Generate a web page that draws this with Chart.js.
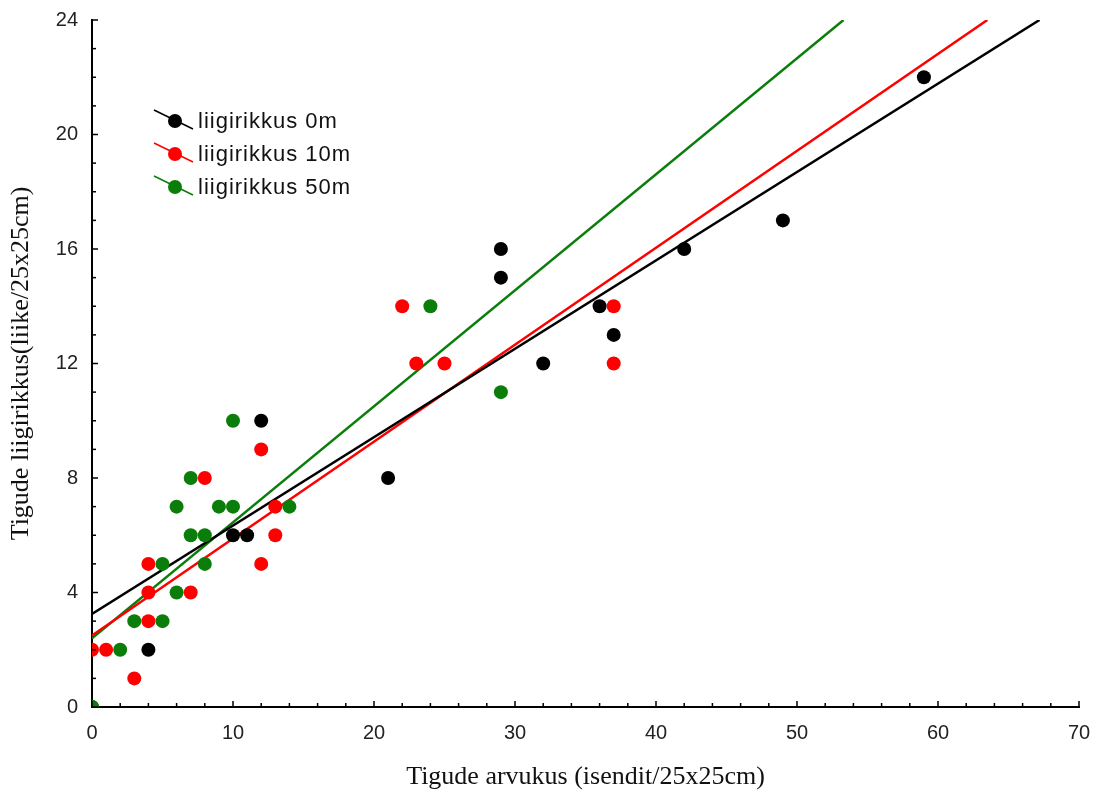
<!DOCTYPE html>
<html>
<head>
<meta charset="utf-8">
<script src="https://cdn.jsdelivr.net/npm/chart.js@4/dist/chart.umd.min.js"></script>
<style>
  html, body { margin: 0; padding: 0; background: #fff; }
  #wrap { width: 1106px; height: 801px; }
</style>
</head>
<body>
<div id="wrap"><canvas id="chart"></canvas></div>
<script>
// punktid (x = tigude arvukus, y = liigirikkus)
var black0mX = [0, 4, 10, 11, 12, 21, 29, 29, 32, 36, 37, 42, 49, 59];
var black0mY = [0, 2, 6, 6, 10, 8, 16, 15, 12, 14, 13, 16, 17, 22];

var red10mX = [0, 1, 3, 4, 4, 4, 7, 8, 12, 12, 13, 13, 22, 23, 25, 37, 37];
var red10mY = [2, 2, 1, 3, 4, 5, 4, 8, 9, 5, 7, 6, 14, 12, 12, 14, 12];

var green50mX = [0, 2, 3, 5, 5, 6, 6, 7, 7, 8, 8, 9, 10, 10, 14, 24, 29];
var green50mY = [0, 2, 3, 3, 5, 4, 7, 8, 6, 6, 5, 7, 7, 10, 7, 14, 11];

// regressioonijoonte otspunktid (loetud pildilt)
var fit0mX = [0, 67.2];
var fit0mY = [3.25, 24];
var fit10mX = [0, 63.5];
var fit10mY = [2.5, 24];
var fit50mX = [0, 53.3];
var fit50mY = [2.4, 24];

var legendLabels = ['liigirikkus 0m', 'liigirikkus 10m', 'liigirikkus 50m'];
var seriesColors = ['#000000', '#ff0000', '#0b7d0b'];

var xTicks = [0, 10, 20, 30, 40, 50, 60, 70];
var yTicks = [0, 4, 8, 12, 16, 20, 24];

function toPoints(xs, ys) {
  var pts = [];
  for (var i = 0; i < xs.length; i++) {
    pts.push({x: xs[i], y: ys[i]});
  }
  return pts;
}

function pointSet(label, xs, ys, color, order) {
  return {
    label: label,
    data: toPoints(xs, ys),
    order: order,
    showLine: false,
    pointRadius: 7,
    pointHoverRadius: 7,
    pointBackgroundColor: color,
    pointBorderColor: color,
    pointBorderWidth: 0
  };
}

function lineSet(xs, ys, color) {
  return {
    label: '',
    data: toPoints(xs, ys),
    order: 10,
    showLine: true,
    borderColor: color,
    borderWidth: 2.5,
    pointRadius: 0,
    fill: false
  };
}

// sisemised kriipsud ja legend
var extrasPlugin = {
  id: 'extras',
  afterDraw: function(chart) {
    var ctx = chart.ctx;
    var xs = chart.scales.x;
    var ys = chart.scales.y;
    var area = chart.chartArea;
    ctx.save();
    ctx.strokeStyle = '#000';
    ctx.lineWidth = 1.5;
    for (var v = 0; v <= 70; v += 2) {
      var px = xs.getPixelForValue(v);
      var len = (v % 10 === 0) ? 6 : 4;
      ctx.beginPath();
      ctx.moveTo(px, area.bottom);
      ctx.lineTo(px, area.bottom - len);
      ctx.stroke();
    }
    for (var w = 0; w <= 24; w += 1) {
      var py = ys.getPixelForValue(w);
      var len2 = (w % 4 === 0) ? 6 : 4;
      ctx.beginPath();
      ctx.moveTo(area.left, py);
      ctx.lineTo(area.left + len2, py);
      ctx.stroke();
    }

    // legend
    var lx = 175, ly = 122, step = 33;
    ctx.font = '22px "Liberation Sans", Arial, sans-serif';
    ctx.textBaseline = 'middle';
    ctx.textAlign = 'left';
    try { ctx.letterSpacing = '1px'; } catch (e) {}
    for (var i = 0; i < legendLabels.length; i++) {
      var cy = ly + i * step;
      ctx.strokeStyle = seriesColors[i];
      ctx.lineWidth = 1.5;
      ctx.beginPath();
      ctx.moveTo(lx - 21, cy - 12);
      ctx.lineTo(lx + 18, cy + 7);
      ctx.stroke();
      ctx.fillStyle = seriesColors[i];
      ctx.beginPath();
      ctx.arc(lx, cy - 1, 7, 0, Math.PI * 2);
      ctx.fill();
      ctx.fillStyle = '#111';
      ctx.fillText(legendLabels[i], lx + 23, cy);
    }
    ctx.restore();
  }
};

var chart = new Chart(document.getElementById('chart'), {
  type: 'scatter',
  data: {
    datasets: [
      lineSet(fit0mX, fit0mY, seriesColors[0]),
      lineSet(fit10mX, fit10mY, seriesColors[1]),
      lineSet(fit50mX, fit50mY, seriesColors[2]),
      pointSet(legendLabels[0], black0mX, black0mY, seriesColors[0], 3),
      pointSet(legendLabels[1], red10mX, red10mY, seriesColors[1], 2),
      pointSet(legendLabels[2], green50mX, green50mY, seriesColors[2], 1)
    ]
  },
  options: {
    responsive: true,
    maintainAspectRatio: false,
    animation: false,
    layout: {
      padding: {top: 20, right: 27, bottom: 8, left: 0}
    },
    plugins: {
      legend: {display: false},
      tooltip: {enabled: false}
    },
    scales: {
      x: {
        type: 'linear',
        min: 0,
        max: 70,
        afterBuildTicks: function(scale) {
          scale.ticks = xTicks.map(function(v) { return {value: v}; });
        },
        afterFit: function(scale) {
          scale.height = 86;
          scale.paddingLeft = 0;
          scale.paddingRight = 0;
        },
        grid: {display: false, drawTicks: false},
        border: {display: true, color: '#000', width: 2},
        ticks: {
          color: '#222',
          padding: 14,
          font: {family: '"Liberation Sans", Arial, sans-serif', size: 20}
        },
        title: {
          display: true,
          text: 'Tigude arvukus (isendit/25x25cm)',
          color: '#111',
          padding: {top: 0, bottom: 0},
          font: {family: '"Liberation Serif", "Times New Roman", serif', size: 26}
        }
      },
      y: {
        type: 'linear',
        min: 0,
        max: 24,
        afterBuildTicks: function(scale) {
          scale.ticks = yTicks.map(function(v) { return {value: v}; });
        },
        afterFit: function(scale) {
          scale.width = 92;
          scale.paddingTop = 0;
          scale.paddingBottom = 0;
        },
        grid: {display: false, drawTicks: false},
        border: {display: true, color: '#000', width: 2},
        ticks: {
          color: '#222',
          padding: 14,
          font: {family: '"Liberation Sans", Arial, sans-serif', size: 20}
        },
        title: {
          display: true,
          text: 'Tigude liigirikkus(liike/25x25cm)',
          color: '#111',
          padding: {top: 6, bottom: 0},
          font: {family: '"Liberation Serif", "Times New Roman", serif', size: 26}
        }
      }
    }
  },
  plugins: [extrasPlugin]
});
</script>
</body>
</html>
